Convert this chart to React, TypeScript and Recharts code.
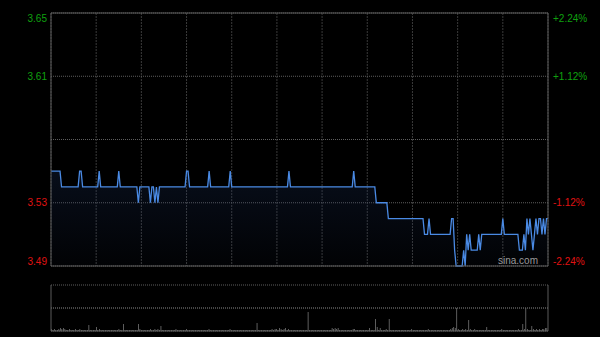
import React from "react";
import {
  ComposedChart,
  BarChart,
  Area,
  Line,
  Bar,
  XAxis,
  YAxis,
  CartesianGrid,
  ReferenceLine,
} from "recharts";

// previous close, used as the 0% line
const prevClose = 3.57;
const priceTicks = [3.49, 3.53, 3.57, 3.61, 3.65];
const pctTicks = [-2.24, -1.12, 0, 1.12, 2.24];
const pctLabels = ["-2.24%", "-1.12%", "0.00%", "+1.12%", "+2.24%"];
// half-hour marks, minutes from the open (HK session, 330 min)
const timeTicks = [0, 30, 60, 90, 120, 150, 180, 210, 240, 270, 300, 330];
const volTicks = [0, 92, 184];

// last price per minute, 0..330
const prices = [
  3.55, 3.55, 3.55, 3.55, 3.55, 3.55, 3.55, 3.54, 3.54, 3.54,
  3.54, 3.54, 3.54, 3.54, 3.54, 3.54, 3.54, 3.54, 3.54, 3.55,
  3.55, 3.54, 3.54, 3.54, 3.54, 3.54, 3.54, 3.54, 3.54, 3.54,
  3.54, 3.54, 3.55, 3.54, 3.54, 3.54, 3.54, 3.54, 3.54, 3.54,
  3.54, 3.54, 3.54, 3.54, 3.54, 3.55, 3.54, 3.54, 3.54, 3.54,
  3.54, 3.54, 3.54, 3.54, 3.54, 3.54, 3.54, 3.54, 3.53, 3.54,
  3.54, 3.54, 3.54, 3.54, 3.54, 3.54, 3.53, 3.54, 3.54, 3.53,
  3.54, 3.53, 3.54, 3.54, 3.54, 3.54, 3.54, 3.54, 3.54, 3.54,
  3.54, 3.54, 3.54, 3.54, 3.54, 3.54, 3.54, 3.54, 3.54, 3.54,
  3.55, 3.55, 3.54, 3.54, 3.54, 3.54, 3.54, 3.54, 3.54, 3.54,
  3.54, 3.54, 3.54, 3.54, 3.54, 3.55, 3.54, 3.54, 3.54, 3.54,
  3.54, 3.54, 3.54, 3.54, 3.54, 3.54, 3.54, 3.54, 3.54, 3.55,
  3.54, 3.54, 3.54, 3.54, 3.54, 3.54, 3.54, 3.54, 3.54, 3.54,
  3.54, 3.54, 3.54, 3.54, 3.54, 3.54, 3.54, 3.54, 3.54, 3.54,
  3.54, 3.54, 3.54, 3.54, 3.54, 3.54, 3.54, 3.54, 3.54, 3.54,
  3.54, 3.54, 3.54, 3.54, 3.54, 3.54, 3.54, 3.54, 3.55, 3.54,
  3.54, 3.54, 3.54, 3.54, 3.54, 3.54, 3.54, 3.54, 3.54, 3.54,
  3.54, 3.54, 3.54, 3.54, 3.54, 3.54, 3.54, 3.54, 3.54, 3.54,
  3.54, 3.54, 3.54, 3.54, 3.54, 3.54, 3.54, 3.54, 3.54, 3.54,
  3.54, 3.54, 3.54, 3.54, 3.54, 3.54, 3.54, 3.54, 3.54, 3.54,
  3.54, 3.55, 3.54, 3.54, 3.54, 3.54, 3.54, 3.54, 3.54, 3.54,
  3.54, 3.54, 3.54, 3.54, 3.54, 3.54, 3.53, 3.53, 3.53, 3.53,
  3.53, 3.53, 3.53, 3.53, 3.52, 3.52, 3.52, 3.52, 3.52, 3.52,
  3.52, 3.52, 3.52, 3.52, 3.52, 3.52, 3.52, 3.52, 3.52, 3.52,
  3.52, 3.52, 3.52, 3.52, 3.52, 3.52, 3.52, 3.52, 3.51, 3.51,
  3.51, 3.52, 3.51, 3.51, 3.51, 3.51, 3.51, 3.51, 3.51, 3.51,
  3.51, 3.51, 3.51, 3.51, 3.51, 3.51, 3.52, 3.52, 3.50, 3.49,
  3.49, 3.49, 3.49, 3.49, 3.50, 3.49, 3.51, 3.50, 3.51, 3.50,
  3.50, 3.50, 3.50, 3.50, 3.51, 3.50, 3.51, 3.51, 3.51, 3.51,
  3.51, 3.51, 3.51, 3.51, 3.51, 3.51, 3.51, 3.51, 3.51, 3.51,
  3.52, 3.51, 3.51, 3.51, 3.51, 3.51, 3.51, 3.51, 3.51, 3.51,
  3.51, 3.50, 3.50, 3.50, 3.51, 3.50, 3.52, 3.51, 3.52, 3.51,
  3.50, 3.51, 3.52, 3.51, 3.52, 3.52, 3.51, 3.52, 3.51, 3.52,
  3.52,
];

// volume per minute, thousand shares
const volumes = [
  8, 4, 8, 4, 4, 8, 12, 8, 12, 8,
  4, 4, 8, 4, 4, 4, 8, 4, 4, 8,
  4, 4, 4, 4, 4, 24, 4, 4, 4, 4,
  16, 4, 8, 4, 4, 4, 4, 4, 4, 4,
  4, 4, 4, 4, 4, 8, 4, 4, 28, 4,
  4, 4, 4, 4, 4, 4, 4, 4, 28, 8,
  4, 4, 4, 4, 4, 4, 8, 4, 4, 8,
  4, 8, 4, 20, 4, 4, 4, 4, 4, 4,
  4, 4, 4, 8, 4, 4, 4, 4, 4, 4,
  8, 4, 4, 4, 4, 4, 4, 4, 4, 4,
  4, 4, 4, 4, 4, 8, 4, 4, 4, 4,
  4, 4, 4, 4, 4, 4, 4, 4, 4, 8,
  4, 4, 4, 4, 4, 4, 4, 4, 4, 4,
  4, 4, 4, 4, 4, 4, 4, 32, 4, 4,
  4, 4, 4, 4, 4, 4, 4, 8, 4, 8,
  8, 4, 12, 8, 4, 8, 12, 4, 8, 4,
  4, 4, 4, 4, 4, 4, 4, 4, 4, 4,
  4, 76, 4, 4, 4, 4, 4, 4, 4, 4,
  4, 4, 4, 4, 4, 4, 4, 12, 8, 12,
  8, 12, 4, 4, 4, 4, 4, 4, 4, 4,
  4, 8, 8, 4, 4, 4, 4, 4, 4, 4,
  4, 4, 12, 4, 4, 4, 48, 16, 4, 12,
  4, 4, 4, 8, 4, 48, 4, 4, 4, 4,
  4, 4, 4, 4, 4, 4, 4, 4, 4, 4,
  8, 4, 4, 4, 4, 4, 4, 4, 4, 4,
  4, 8, 4, 4, 4, 4, 4, 4, 4, 4,
  4, 4, 4, 4, 4, 4, 8, 12, 16, 12,
  92, 8, 4, 4, 8, 4, 8, 4, 44, 8,
  4, 4, 8, 4, 4, 4, 4, 4, 4, 4,
  16, 4, 4, 4, 4, 4, 4, 4, 4, 4,
  8, 4, 4, 4, 4, 4, 4, 4, 4, 4,
  4, 8, 4, 4, 28, 8, 92, 8, 4, 4,
  20, 8, 4, 8, 4, 8, 4, 8, 8, 12,
  12,
];

const data = prices.map((p, i) => ({
  m: i,
  price: p,
  pct: ((p - prevClose) / prevClose) * 100,
  vol: volumes[i],
}));

const FONT = "'Liberation Sans', Arial, sans-serif";
const UP = "#0fa00f";
const DOWN = "#e01212";
const FRAME = "#5a5a5a";

const NoTick = () => <g />;

const LeftTick = (props: any) => {
  const { x, y, payload } = props;
  const v = payload.value;
  if (v === prevClose) return <g />;
  const top = v === priceTicks[priceTicks.length - 1];
  const bottom = v === priceTicks[0];
  const shift = top ? 5 : bottom ? -5 : 0;
  return (
    <text
      x={x - 4}
      y={y + shift}
      dy="0.36em"
      textAnchor="end"
      fill={v > prevClose ? UP : DOWN}
      fontSize={10}
      fontFamily={FONT}
    >
      {v.toFixed(2)}
    </text>
  );
};

const RightTick = (props: any) => {
  const { x, y, payload } = props;
  const v = payload.value;
  if (v === 0) return <g />;
  const idx = pctTicks.indexOf(v);
  const top = idx === pctTicks.length - 1;
  const bottom = idx === 0;
  const shift = top ? 5 : bottom ? -5 : 0;
  return (
    <text
      x={x + 5}
      y={y + shift}
      dy="0.36em"
      textAnchor="start"
      fill={v > 0 ? UP : DOWN}
      fontSize={10}
      fontFamily={FONT}
    >
      {pctLabels[idx]}
    </text>
  );
};

export default function App() {
  return (
    <div
      style={{
        position: "absolute",
        left: 0,
        top: 0,
        width: 600,
        height: 337,
        background: "#000",
        overflow: "hidden",
      }}
    >
      <div style={{ position: "absolute", left: 0, top: 0 }}>
        <ComposedChart
          width={600}
          height={280}
          data={data}
          margin={{ top: 13, right: 0, bottom: 13, left: 0 }}
        >
          <defs>
            <linearGradient id="priceFill" x1="0" y1="0" x2="0" y2="1">
              <stop offset="0%" stopColor="#1c3260" stopOpacity={0.45} />
              <stop offset="100%" stopColor="#1c3260" stopOpacity={0.08} />
            </linearGradient>
          </defs>
          <CartesianGrid
            horizontal={false}
            stroke="#3a3a3a"
            strokeDasharray="2 1"
          />
          <CartesianGrid
            vertical={false}
            stroke="#5e5e5e"
            strokeDasharray="1 1"
          />
          <XAxis
            dataKey="m"
            type="number"
            domain={[0, 330]}
            ticks={timeTicks}
            tick={<NoTick />}
            tickLine={false}
            height={1}
            axisLine={{ stroke: FRAME }}
          />
          <YAxis
            domain={[3.49, 3.65]}
            ticks={priceTicks}
            width={51}
            tickSize={0}
            tickMargin={0}
            tick={<LeftTick />}
            axisLine={{ stroke: FRAME }}
          />
          <YAxis
            yAxisId="pct"
            orientation="right"
            domain={[-2.24, 2.24]}
            ticks={pctTicks}
            width={52}
            tickSize={0}
            tickMargin={0}
            tick={<RightTick />}
            axisLine={{ stroke: FRAME }}
          />
          <ReferenceLine y={3.65} stroke={FRAME} />
          <Area
            type="linear"
            dataKey="price"
            stroke="#4a8ae4"
            strokeWidth={1.3}
            fill="url(#priceFill)"
            dot={false}
            activeDot={false}
            isAnimationActive={false}
          />
          <Line
            yAxisId="pct"
            type="linear"
            dataKey="pct"
            stroke="none"
            dot={false}
            activeDot={false}
            isAnimationActive={false}
          />
        </ComposedChart>
      </div>
      <div style={{ position: "absolute", left: 0, top: 280 }}>
        <BarChart
          width={600}
          height={57}
          data={data}
          margin={{ top: 5, right: 0, bottom: 5, left: 0 }}
          barCategoryGap={0}
        >
          <CartesianGrid
            vertical={false}
            stroke="#5e5e5e"
            strokeDasharray="1 1"
          />
          <XAxis
            dataKey="m"
            tick={<NoTick />}
            tickLine={false}
            height={1}
            axisLine={{ stroke: FRAME }}
          />
          <YAxis
            domain={[0, 184]}
            ticks={volTicks}
            interval={0}
            width={51}
            tick={<NoTick />}
            tickLine={false}
            axisLine={{ stroke: FRAME }}
          />
          <YAxis
            yAxisId="r"
            orientation="right"
            domain={[0, 184]}
            width={52}
            tick={<NoTick />}
            tickLine={false}
            axisLine={{ stroke: FRAME }}
          />
          <ReferenceLine
            y={volTicks[1]}
            stroke="#5e5e5e"
            strokeDasharray="1 1"
          />
          <Bar
            dataKey="vol"
            fill="#8a8a8a"
            barSize={1}
            isAnimationActive={false}
          />
          <Bar
            yAxisId="r"
            dataKey="vol"
            fill="none"
            barSize={1}
            isAnimationActive={false}
          />
        </BarChart>
      </div>
      <div
        style={{
          position: "absolute",
          left: 498,
          top: 255,
          fontFamily: FONT,
          fontSize: 10,
          color: "#9a9a9a",
          lineHeight: "12px",
        }}
      >
        sina.com
      </div>
    </div>
  );
}
